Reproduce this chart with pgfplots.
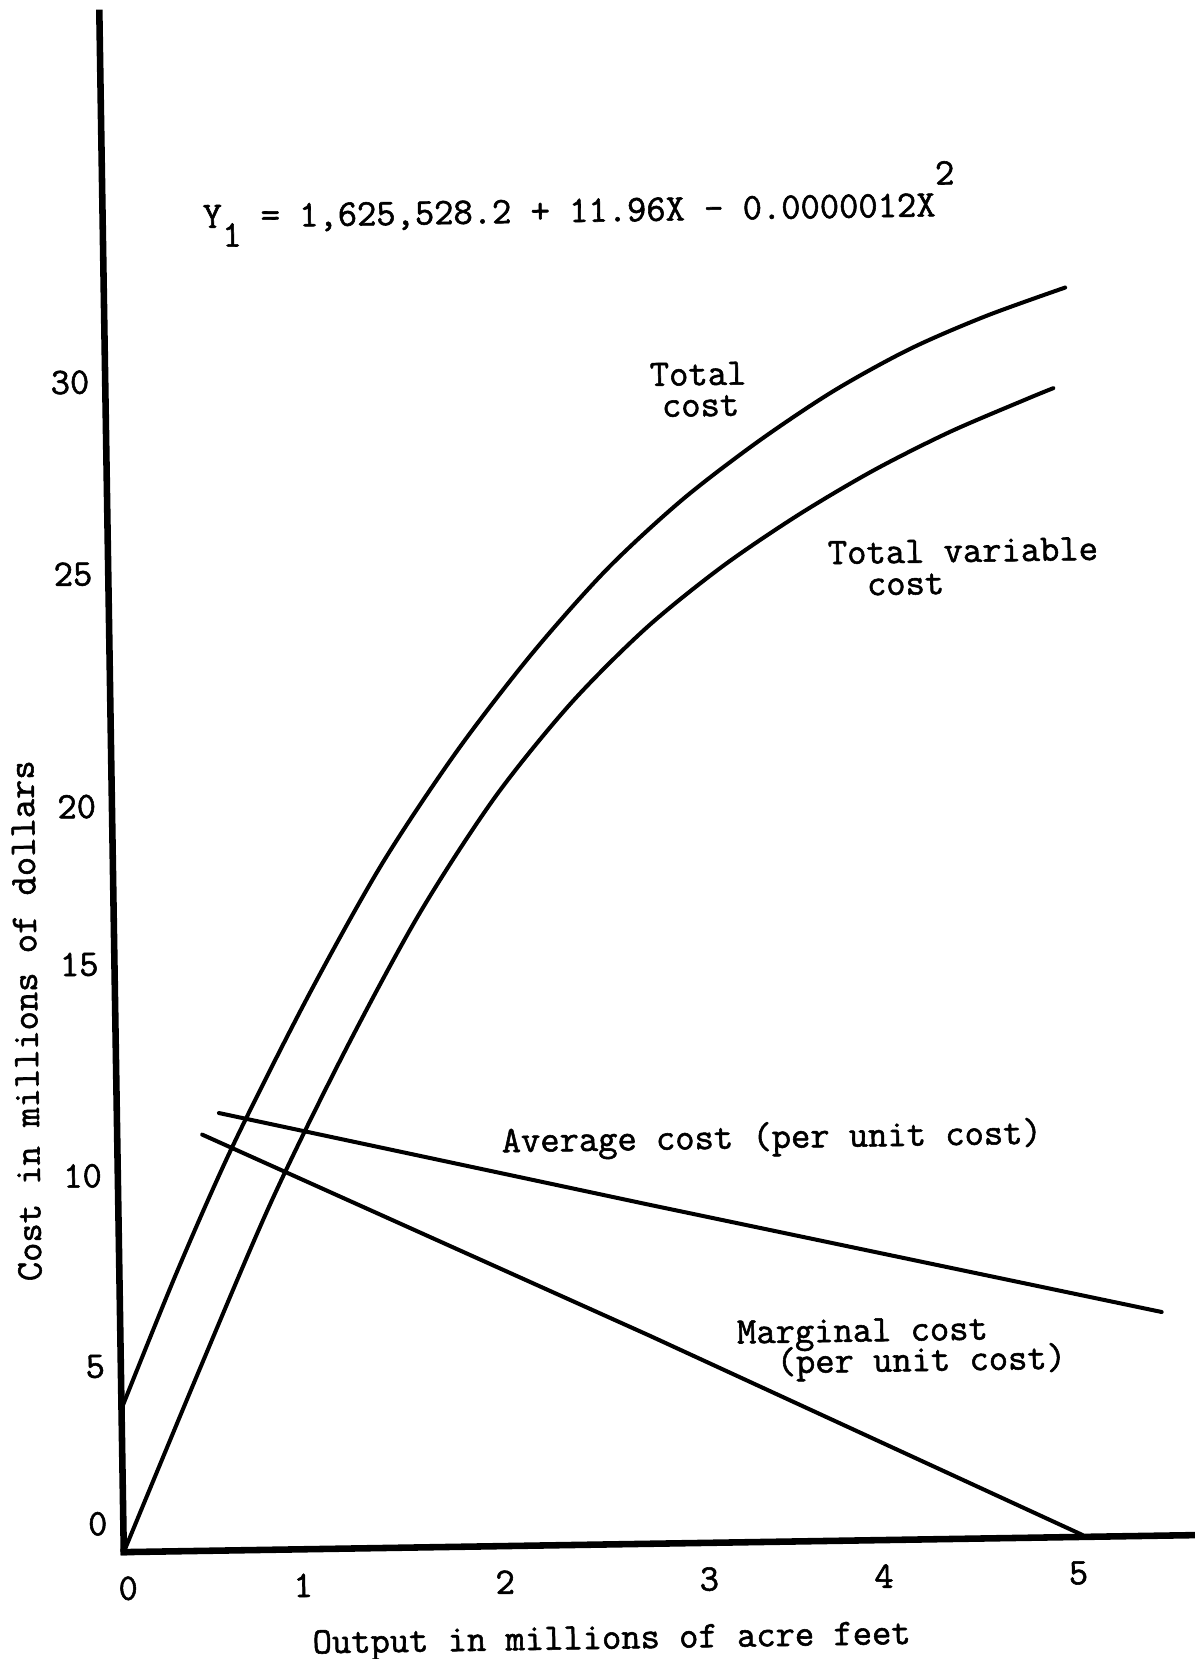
\documentclass[border=0pt]{standalone}
\usepackage{fontspec}
\newfontfamily\twf{lmmono12-regular}[Extension=.otf,FakeBold=1.5]
\usepackage{pgfplots}
\pgfplotsset{compat=1.18}
\newcommand\tw{\fontsize{17.7}{20}\selectfont\twf}
\begin{document}
\begin{tikzpicture}
\useasboundingbox (-58.5pt,-50.5pt) rectangle (506pt,733.5pt);
\begin{scope}[rotate=0.91]
\begin{axis}[
  at={(0pt,0pt)}, anchor=south west,
  scale only axis, width=506pt, height=727.5pt,
  xmin=0, xmax=5.5912, ymin=0, ymax=39.7215,
  axis lines=left,
  axis line style={-, line width=3.1pt, line cap=rect},
  major tick length=0pt,
  xtick={0.02,0.934,1.989,3.055,3.967,4.983},
  xticklabels={0,1,2,3,4,5},
  ytick={0.74,4.80,9.72,15.18,19.25,25.25,30.2},
  yticklabels={0,5,10,15,20,25,30},
  ticklabel style={font=\tw},
  xticklabel style={yshift=-8pt},
  yticklabel style={xshift=-4pt},
  xlabel={Output in millions of acre feet},
  ylabel={Cost in millions of dollars},
  label style={font=\tw},
  xlabel style={at={(axis description cs:0.4543,-0.0678)}, anchor=base},
  ylabel style={at={(axis description cs:-0.0834,0.3461)}, anchor=center},
  clip=false,
]
% Total cost
\addplot[black, line width=1.9pt, line cap=round, smooth] coordinates {(0,3.7) (0.3,7.2) (0.6,10.41) (1.0,14.19) (1.4,17.61) (1.8,20.49) (2.2,22.98) (2.6,25.14) (3.0,26.91) (3.4,28.38) (3.8,29.66) (4.2,30.71) (4.6,31.53) (5.02,32.24)};
% Total variable cost
\addplot[black, line width=1.9pt, line cap=round, smooth] coordinates {(0,0) (0.4,4.56) (0.8,8.99) (1.2,12.87) (1.6,16.38) (2.0,19.32) (2.4,21.69) (2.8,23.61) (3.2,25.16) (3.6,26.46) (4.0,27.59) (4.4,28.55) (4.8,29.36) (4.95,29.65)};
% Average cost
\addplot[black, line width=1.9pt, line cap=round, sharp plot] coordinates {(0.533,11.29) (2.77,8.75) (5.439,5.77)};
% Marginal cost
\addplot[black, line width=1.9pt, line cap=round, sharp plot] coordinates {(0.444,10.74) (2.763,5.37) (5.007,0.05)};

\node[anchor=base west, inner sep=0pt, font=\tw] at (axis cs:0.521,34.13) {Y\raisebox{-9pt}{1} = 1,625,528.2 + 11.96X - 0.0000012X\raisebox{15pt}{2}};
\node[anchor=base west, inner sep=0pt, font=\tw] at (axis cs:2.842,29.87) {\rlap{\raisebox{-14.7pt}{\hspace*{5.5pt}cost}}Total};
\node[anchor=base west, inner sep=0pt, font=\tw] at (axis cs:3.757,25.20) {\rlap{\raisebox{-15pt}{\phantom{xx}cost}}Total variable};
\node[anchor=base west, inner sep=0pt, font=\tw] at (axis cs:2.005,10.16) {Average cost (per unit cost)};
\node[anchor=base west, inner sep=0pt, font=\tw] at (axis cs:3.218,5.13) {\rlap{\raisebox{-14.4pt}{\hspace*{18.5pt}(per unit cost)}}Marginal cost};
\end{axis}
\end{scope}
\end{tikzpicture}
\end{document}
